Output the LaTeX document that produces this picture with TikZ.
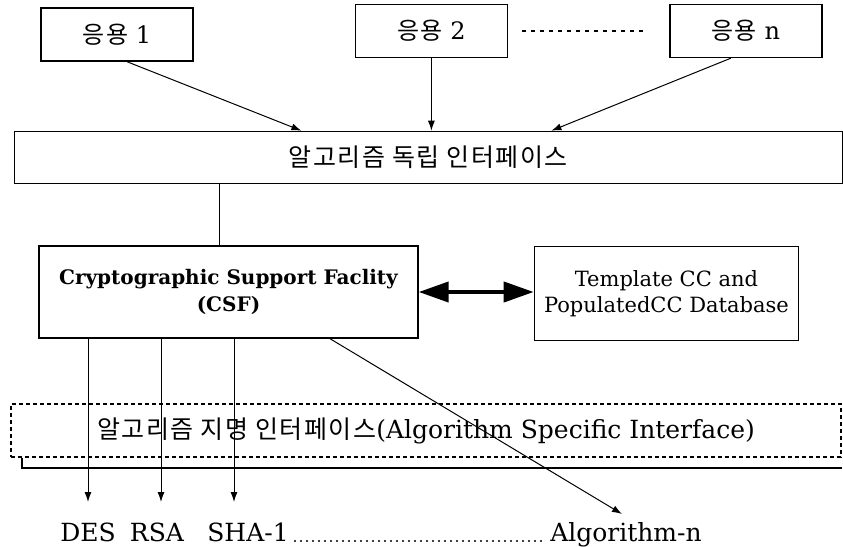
\documentclass[tikz,border=0pt]{standalone}
\usepackage{fontspec}
\setmainfont{DejaVu Serif}
\newfontfamily\kr[LetterSpace=6]{Noto Sans CJK KR}
\usetikzlibrary{arrows.meta, positioning}

\begin{document}
\begin{tikzpicture}[x=0.5pt, y=-0.5pt]
    \tikzset{
        appbox/.style = {rectangle, draw, line width=0.7pt, minimum width=76pt, minimum height=26.5pt, inner sep=0pt, font=\fontsize{12}{14}\selectfont},
        layer/.style = {rectangle, draw, line width=0.7pt, minimum width=414pt, minimum height=26pt, inner sep=0pt},
        component/.style = {rectangle, draw, line width=0.7pt, align=center, inner sep=0pt},
        algo/.style = {anchor=base, inner sep=0pt, font=\fontsize{12.5}{14}\selectfont},
        line/.style = {draw, line width=0.5pt, -{Latex[length=5pt, width=3.5pt]}},
        dbline/.style = {draw, line width=2pt, {Triangle[length=15pt, width=10pt]}-{Triangle[length=15pt, width=10pt]}},
        leader/.style = {draw, line width=1.1pt, line cap=round, dash pattern=on 0pt off 3pt}
    }
    \useasboundingbox (0,0) rectangle (843,547);

    \node[appbox](app_1) at (117,34.5){{\kr 응용} 1};
    \node[appbox](app_2)[right = 80.5pt of app_1, yshift=1.75pt]{{\kr 응용} 2};
    \node[appbox](app_n)[right = 80.5pt of app_2]{{\kr 응용} n};
    \path[draw, line width=0.8pt, dash pattern=on 2pt off 2.5pt] ([xshift=7pt]app_2.east) -- ([xshift=-12.5pt]app_n.west);

    \node[layer](indep)[below = 36.25pt of app_2, xshift=-1.5pt]{\kr\fontsize{12.5}{14}\selectfont 알고리즘 독립 인터페이스};

    \path [line] ([xshift=5pt]app_1.south) -- ([xshift=-63.5pt]indep.north);
    \path [line] (app_2.south) -- (app_2.south |- indep.north);
    \path [line] ([xshift=-7.5pt]app_n.south) -- ([xshift=61.5pt]indep.north);

    \node[component, minimum width=189.5pt, minimum height=46pt, font=\bfseries\fontsize{10}{13.5}\selectfont](csf) at (228.5,292){Cryptographic Support Faclity\\(CSF)};
    \node[component, minimum width=132pt, minimum height=47pt, font=\fontsize{10.5}{13}\selectfont](db)[right = 57.5pt of csf, yshift=-0.75pt]{Template CC and\\PopulatedCC Database};

    \coordinate (tap) at ([xshift=-4.75pt]csf.north);
    \draw[line width=0.5pt] (tap) -- (tap |- indep.south);
    \path [dbline] (csf.east) -- (csf.east -| db.west);

    \node[layer, dashed, dash pattern=on 2pt off 1.5pt, minimum width=415pt, minimum height=26.5pt, font=\fontsize{12.5}{14}\selectfont](asi) at (426,430.5){{\kr 알고리즘 지명 인터페이스}(Algorithm Specific Interface)};
    \draw[line width=1pt] ([xshift=6pt]asi.south west) -- ++(0,10) -- ++(820,0);

    \node[algo](des) at (88,541){DES};
    \node[algo](rsa) at (157,541){RSA};
    \node[algo](sha) at (248,541){SHA-1};
    \node[algo](algn) at (626,541){Algorithm-n};
    \path[leader] ([xshift=3pt]sha.base east) -- ([xshift=-3pt]algn.base west);

    \coordinate (e_1) at (88,502);
    \coordinate (e_2) at (161,502);
    \coordinate (e_3) at (234,502);
    \coordinate (e_4) at (622,514);
    \path [line] (csf.south -| e_1) -- (e_1);
    \path [line] (csf.south -| e_2) -- (e_2);
    \path [line] (csf.south -| e_3) -- (e_3);
    \path [line] ([xshift=50.75pt]csf.south) -- (e_4);
    
\end{tikzpicture}
\end{document}
